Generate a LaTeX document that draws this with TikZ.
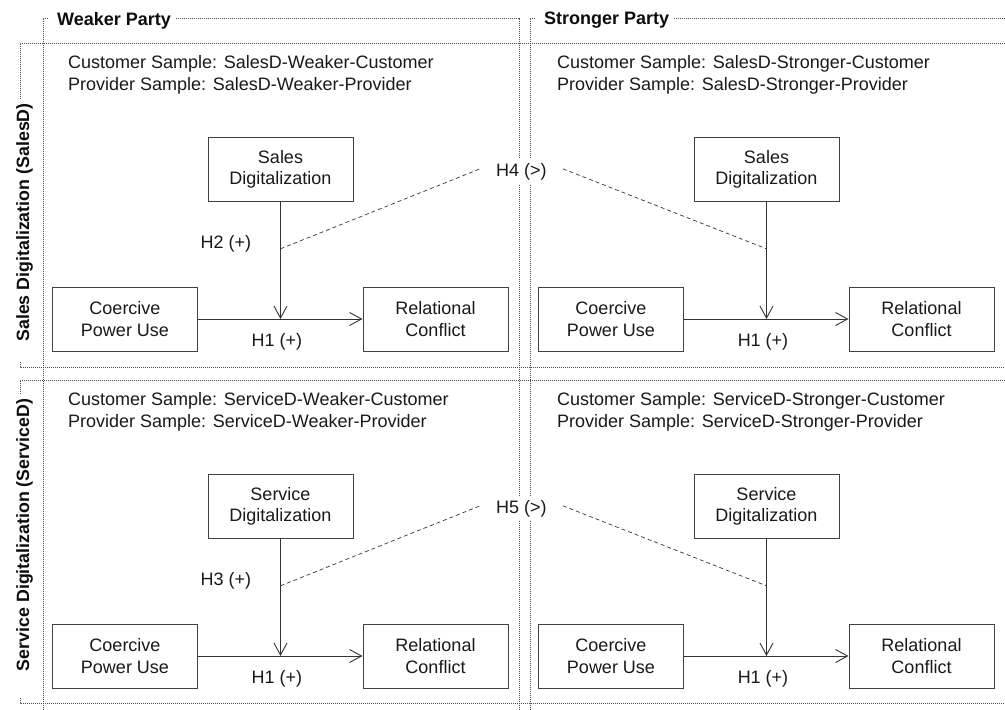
\documentclass[tikz,border=0pt]{standalone}
\usepackage{fontspec}
\setmainfont{Liberation Sans}
\usetikzlibrary{arrows.meta,calc}
\newcommand\fsA{\fontsize{18}{21.5}\selectfont}
\newcommand\fsB{\fontsize{18}{21}\selectfont\bfseries}
\newcommand\fsC{\fontsize{17.8}{20}\selectfont\bfseries}
\tikzset{
  box/.style={draw=black!75, line width=1pt, minimum width=145pt, minimum height=64pt,
    align=center, font=\fsA, text=black!90, inner sep=0pt},
  arr/.style={draw=black!80, line width=0.9pt, -{Straight Barb[length=12pt,width=13pt]}},
  hyp/.style={draw=black!80, line width=0.7pt, dash pattern=on 4pt off 3pt},
  grp/.style={draw=black!70, line width=0.9pt, dash pattern=on 1pt off 1pt},
  lab/.style={font=\fsA, text=black!90, inner sep=0pt},
  coltitle/.style={font=\fsB, text=black!95, inner xsep=5pt, inner ysep=0pt},
  rowtitle/.style={font=\fsC, text=black!95, inner sep=0pt},
}
\begin{document}
\begin{tikzpicture}[x=1pt,y=-1pt]
\useasboundingbox (0,0) rectangle (1005,710);

% column groups
\node[coltitle, anchor=west] (wt) at (52,20.5) {Weaker Party};
\node[coltitle, anchor=west] (st) at (539,20.5) {Stronger Party};
\draw[grp] (48,18) -- (43,18) -- (43,710);
\draw[grp] (wt.east |- 0,18) -- (519,18) -- (519,710);
\draw[grp] (535,18) -- (530,18) -- (530,710);
\draw[grp] (st.east |- 0,18) -- (1005,18);

% row groups
\node[rowtitle, rotate=90, anchor=base] (sr) at (29,222.5) {Sales Digitalization (SalesD)};
\node[rowtitle, rotate=90, anchor=base] (vr) at (29,535) {Service Digitalization (ServiceD)};
\draw[grp] (1005,43) -- (20,43) -- ([yshift=5pt]sr.east -| 20,0);
\draw[grp] (20,362) -- (20,367) -- (1005,367);
\draw[grp] (1005,380) -- (20,380) -- ([yshift=5pt]vr.east -| 20,0);
\draw[grp] (20,698) -- (20,703) -- (1005,703);

% panels
\foreach \p/\dx/\dy/\tx/\d/\D/\side in {a/0/0/68/Sales/SalesD/Weaker, b/486/0/557/Sales/SalesD/Stronger, c/0/337/68/Service/ServiceD/Weaker, d/486/337/557/Service/ServiceD/Stronger}{
  \node[box] (sd\p) at (280.5+\dx,169.5+\dy) {\d\\Digitalization};
  \node[box] (cp\p) at (125+\dx,319+\dy) {Coercive\\Power Use};
  \node[box] (rc\p) at (435.5+\dx,319+\dy) {Relational\\Conflict};
  \draw[arr] (cp\p) -- (rc\p);
  \draw[arr] (sd\p) -- (sd\p.south |- cp\p.east);
  \node[lab, anchor=base] (h1\p) at (277+\dx,346+\dy) {H1 (+)};
  \coordinate (j\p) at ($(sd\p.south)!0.4!(sd\p.south |- cp\p.east)$);
  \node[lab, anchor=base west] (cs\p) at (\tx,68.5+\dy) {Customer Sample: \D-\side-Customer};
  \node[lab, anchor=base west] (ps\p) at (\tx,90+\dy) {Provider Sample: \D-\side-Provider};
}

% hypotheses
\node[lab, anchor=base] (h2) at (226,248) {H2 (+)};
\node[lab, anchor=base] (h3) at (226,585) {H3 (+)};
\node[lab, fill=white, inner xsep=16pt, inner ysep=4pt, anchor=base] (h4) at (521.5,176) {H4 (>)};
\node[lab, fill=white, inner xsep=16pt, inner ysep=4pt, anchor=base] (h5) at (521.5,513) {H5 (>)};
\draw[hyp] (ja) -- ([yshift=2.5pt]h4.west);
\draw[hyp] ([yshift=2.5pt]h4.east) -- (jb);
\draw[hyp] (jc) -- ([yshift=2.5pt]h5.west);
\draw[hyp] ([yshift=2.5pt]h5.east) -- (jd);
\end{tikzpicture}
\end{document}
